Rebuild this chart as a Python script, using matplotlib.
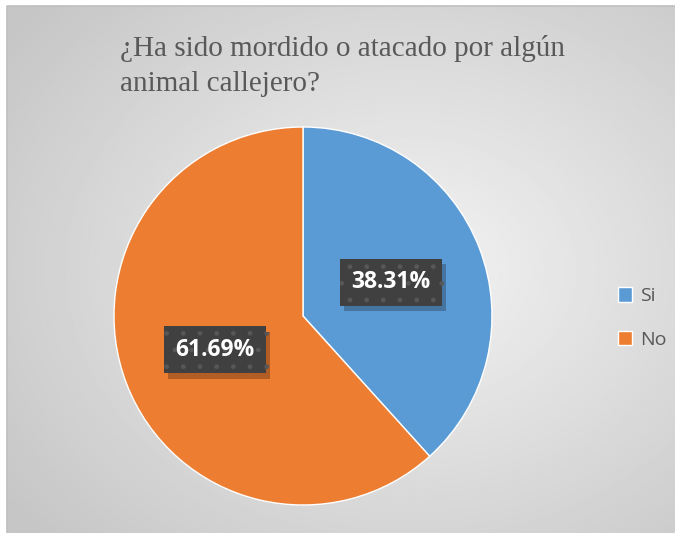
import numpy as np
import matplotlib
matplotlib.use("Agg")
import matplotlib.pyplot as plt
import matplotlib.patheffects as pe

# --- data ---
categories = ["Si", "No"]
values = [38.31, 61.69]
colors = ["#5B9BD5", "#ED7D31"]
title = "¿Ha sido mordido o atacado por algún\nanimal callejero?"

W, H = 675, 533
fig = plt.figure(figsize=(W / 100, H / 100), dpi=100)

# background panel with radial gradient
bg = fig.add_axes([7 / W, 0, 1 - 7 / W, 1 - 6 / H])
yy, xx = np.mgrid[0:1:300j, 0:1:300j]
dist = np.sqrt((xx - 0.6) ** 2 + (yy - 0.5) ** 2)
dist = np.clip(dist / 0.75, 0, 1)
shade = 0.955 - 0.18 * dist
bg.imshow(shade, cmap="gray", vmin=0, vmax=1, extent=[0, 1, 0, 1],
          aspect="auto", origin="lower")
bg.set_xlim(0, 1)
bg.set_ylim(0, 1)
bg.set_axis_off()
# top and left border only
fig.add_artist(plt.Line2D([7 / W, 7 / W, 1], [0, 1 - 6 / H, 1 - 6 / H],
                          transform=fig.transFigure, color="#bfbfbf", linewidth=1.2))

# title
fig.text(120 / W, 1 - 35 / H, title, fontsize=21, family="Liberation Serif",
         color="#595959", ha="left", va="top", linespacing=1.45)

# pie
r = 189
cx, cy = 303, 316
ax = fig.add_axes([(cx - r) / W, 1 - (cy + r) / H, 2 * r / W, 2 * r / H])
wedges, texts, autotexts = ax.pie(values, colors=colors, startangle=90, counterclock=False,
                                  autopct="%.2f%%", pctdistance=0.5,
                                  wedgeprops={"edgecolor": "white", "linewidth": 1})
ax.set_aspect("equal")
ax.set_xlim(-1, 1)
ax.set_ylim(-1, 1)

for t in autotexts:
    t.set_color("white")
    t.set_fontsize(16.5)
    t.set_fontweight("bold")
    t.set_family("Open Sans")
    t.set_bbox(dict(boxstyle="square,pad=0.5", facecolor="#404040", edgecolor="#575757",
                    hatch=".", linewidth=0))
    t.get_bbox_patch().set_path_effects([
        pe.SimplePatchShadow(offset=(3, -4), shadow_rgbFace="#000000", alpha=0.25),
        pe.Normal()])

# legend
leg = fig.legend(wedges, categories, loc="center left",
                 bbox_to_anchor=(600 / W, 1 - 318 / H), frameon=False,
                 prop={"family": "Open Sans", "size": 14}, labelcolor="#595959",
                 handlelength=0.75, handleheight=0.75, handletextpad=0.4,
                 labelspacing=1.3)

fig.savefig("out.png", dpi=100)
